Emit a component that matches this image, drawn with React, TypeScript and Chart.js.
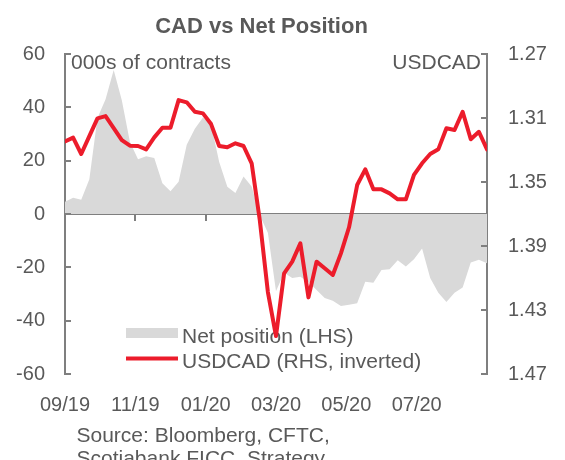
import { useEffect, useRef } from "react";
import { Chart, registerables } from "chart.js";

Chart.register(...registerables);

// ---- data ----
const monthLabels = ["09/19", "11/19", "01/20", "03/20", "05/20", "07/20"];

// CFTC net position, 000s of contracts (LHS), weekly
const netPosition = [
  4.6, 6.1, 5.3, 13, 36, 43, 54, 42.7, 27, 20.5, 21.7, 21, 11.5, 8.5, 12.1, 26,
  32, 36.2, 33.5, 19.5, 10.2, 7.9, 14.1, 10.3, -0.5, -7, -29, -22, -24, -23.5,
  -25.5, -28.5, -31.5, -32.5, -34.5, -34, -33.5, -25.4, -25.8, -21, -20.7, -17.3,
  -19.7, -17, -12.9, -24, -29.5, -33, -29.5, -27.6, -18.2, -17.2, -18.5,
];

// USDCAD (RHS, inverted), weekly
const usdcad = [
  1.3246, 1.3223, 1.3325, 1.3213, 1.3102, 1.3088, 1.3163, 1.3238, 1.3273, 1.3275,
  1.3296, 1.3221, 1.3161, 1.3161, 1.2988, 1.3002, 1.3061, 1.3071, 1.3138, 1.3275,
  1.3283, 1.3258, 1.3275, 1.3383, 1.3738, 1.4188, 1.4463, 1.4071, 1.3998, 1.3883,
  1.4221, 1.3998, 1.4039, 1.4081, 1.3946, 1.3783, 1.3519, 1.3421, 1.3546, 1.3546,
  1.3571, 1.3608, 1.3608, 1.3456, 1.3383, 1.3325, 1.3296, 1.3164, 1.3175, 1.3061,
  1.3233, 1.3186, 1.3296,
];

const titleText = "CAD vs Net Position";
const leftUnit = "000s of contracts";
const rightUnit = "USDCAD";
const legendNet = "Net position (LHS)";
const legendFx = "USDCAD (RHS, inverted)";
const sourceLines = ["Source: Bloomberg, CFTC,", "Scotiabank FICC  Strategy."];

// ---- styles ----
const FONT = "'Liberation Sans', Arial, Helvetica, sans-serif";
const TEXT = "#595959";
const AXIS = "#7f7f7f";
const RED = "#ec1c2b";
const GREY = "#d9d9d9";

const lastWeek = netPosition.length - 1;

function monthTicks(scale: any) {
  const n = monthLabels.length;
  scale.ticks = Array.from({ length: n + 1 }, (_, k) => ({ value: (k * lastWeek) / n }));
}

const decor = {
  id: "decor",
  beforeDatasetsDraw(chart: any) {
    const ctx = chart.ctx as CanvasRenderingContext2D;
    ctx.save();
    // legend (inside plot)
    ctx.fillStyle = GREY;
    ctx.fillRect(126, 328, 52, 10);
    ctx.strokeStyle = RED;
    ctx.lineWidth = 4;
    ctx.beginPath();
    ctx.moveTo(126, 358.5);
    ctx.lineTo(178, 358.5);
    ctx.stroke();
    ctx.fillStyle = TEXT;
    ctx.font = `21px ${FONT}`;
    ctx.textAlign = "left";
    ctx.textBaseline = "alphabetic";
    ctx.fillText(legendNet, 182, 343);
    ctx.fillText(legendFx, 182, 368);
    ctx.restore();
  },
  afterDraw(chart: any) {
    const ctx = chart.ctx as CanvasRenderingContext2D;
    const yL = chart.scales.y;
    const yR = chart.scales.y1;
    ctx.save();
    // inward tick marks on both value axes
    ctx.strokeStyle = AXIS;
    ctx.lineWidth = 2;
    ctx.beginPath();
    yL.ticks.forEach((t: any) => {
      const py = Math.round(yL.getPixelForValue(t.value));
      ctx.moveTo(yL.right, py);
      ctx.lineTo(yL.right + 6, py);
    });
    yR.ticks.forEach((t: any) => {
      const py = Math.round(yR.getPixelForValue(t.value));
      ctx.moveTo(yR.left - 6, py);
      ctx.lineTo(yR.left, py);
    });
    ctx.stroke();

    // title
    ctx.fillStyle = TEXT;
    ctx.textBaseline = "alphabetic";
    ctx.font = `bold 22px ${FONT}`;
    ctx.textAlign = "center";
    ctx.fillText(titleText, 261.5, 33);

    // axis units
    ctx.font = `21px ${FONT}`;
    ctx.textAlign = "left";
    ctx.fillText(leftUnit, 71, 69);
    ctx.textAlign = "right";
    ctx.fillText(rightUnit, 481, 69);

    // source
    ctx.textAlign = "left";
    ctx.fillText(sourceLines[0], 76.5, 442);
    ctx.fillText(sourceLines[1], 76.5, 465);
    ctx.restore();
  },
};

export default function App() {
  const ref = useRef<HTMLCanvasElement>(null);

  useEffect(() => {
    if (!ref.current) return;
    const tickFont = { family: FONT, size: 20 };
    const chart = new Chart(ref.current, {
      type: "line",
      data: {
        datasets: [
          {
            label: legendFx,
            data: usdcad.map((v, i) => ({ x: i, y: v })),
            xAxisID: "x",
            yAxisID: "y1",
            borderColor: RED,
            borderWidth: 4,
            borderJoinStyle: "round",
            borderCapStyle: "round",
            pointRadius: 0,
            tension: 0,
            fill: false,
            order: 0,
          },
          {
            label: legendNet,
            data: netPosition.map((v, i) => ({ x: i, y: v })),
            xAxisID: "x",
            yAxisID: "y",
            borderColor: "rgba(0,0,0,0)",
            borderWidth: 0,
            backgroundColor: GREY,
            pointRadius: 0,
            tension: 0,
            fill: "origin",
            order: 1,
          },
        ],
      },
      options: {
        responsive: false,
        animation: false,
        devicePixelRatio: 1,
        layout: { padding: { top: 54, left: 0, right: 0, bottom: 0 } },
        plugins: {
          legend: { display: false },
          title: { display: false },
          tooltip: { enabled: false },
        },
        scales: {
          x: {
            type: "linear",
            position: "bottom",
            min: 0,
            max: lastWeek,
            afterBuildTicks: monthTicks,
            afterFit: (s: any) => {
              s.height = 86;
            },
            grid: { display: false, drawTicks: false },
            border: { display: false },
            ticks: {
              callback: (_v: any, i: number) => monthLabels[i] ?? "",
              font: tickFont,
              color: TEXT,
              padding: 19,
              maxRotation: 0,
              autoSkip: false,
            },
          },
          x2: {
            type: "linear",
            position: { y: 0 },
            min: 0,
            max: lastWeek,
            z: 1,
            afterBuildTicks: monthTicks,
            grid: {
              drawOnChartArea: false,
              drawTicks: true,
              tickLength: 6,
              color: AXIS,
              lineWidth: 2,
            },
            border: { display: true, color: AXIS, width: 2 },
            ticks: { display: false },
          },
          y: {
            type: "linear",
            position: "left",
            min: -60,
            max: 60,
            afterFit: (s: any) => {
              s.width = 65;
            },
            grid: { drawOnChartArea: false, drawTicks: false },
            border: { display: true, color: AXIS, width: 2 },
            ticks: { stepSize: 20, font: tickFont, color: TEXT, padding: 20 },
          },
          y1: {
            type: "linear",
            position: "right",
            reverse: true,
            min: 1.27,
            max: 1.47,
            afterFit: (s: any) => {
              s.width = 78;
            },
            grid: { drawOnChartArea: false, drawTicks: false },
            border: { display: true, color: AXIS, width: 2 },
            ticks: {
              stepSize: 0.04,
              font: tickFont,
              color: TEXT,
              padding: 21,
              callback: (v: any) => Number(v).toFixed(2),
            },
          },
        },
      } as any,
      plugins: [decor],
    });
    return () => chart.destroy();
  }, []);

  return (
    <div
      style={{
        position: "absolute",
        left: 0,
        top: 0,
        width: 565,
        height: 460,
        background: "#ffffff",
      }}
    >
      <canvas ref={ref} width={565} height={460} style={{ display: "block", width: 565, height: 460 }} />
    </div>
  );
}
